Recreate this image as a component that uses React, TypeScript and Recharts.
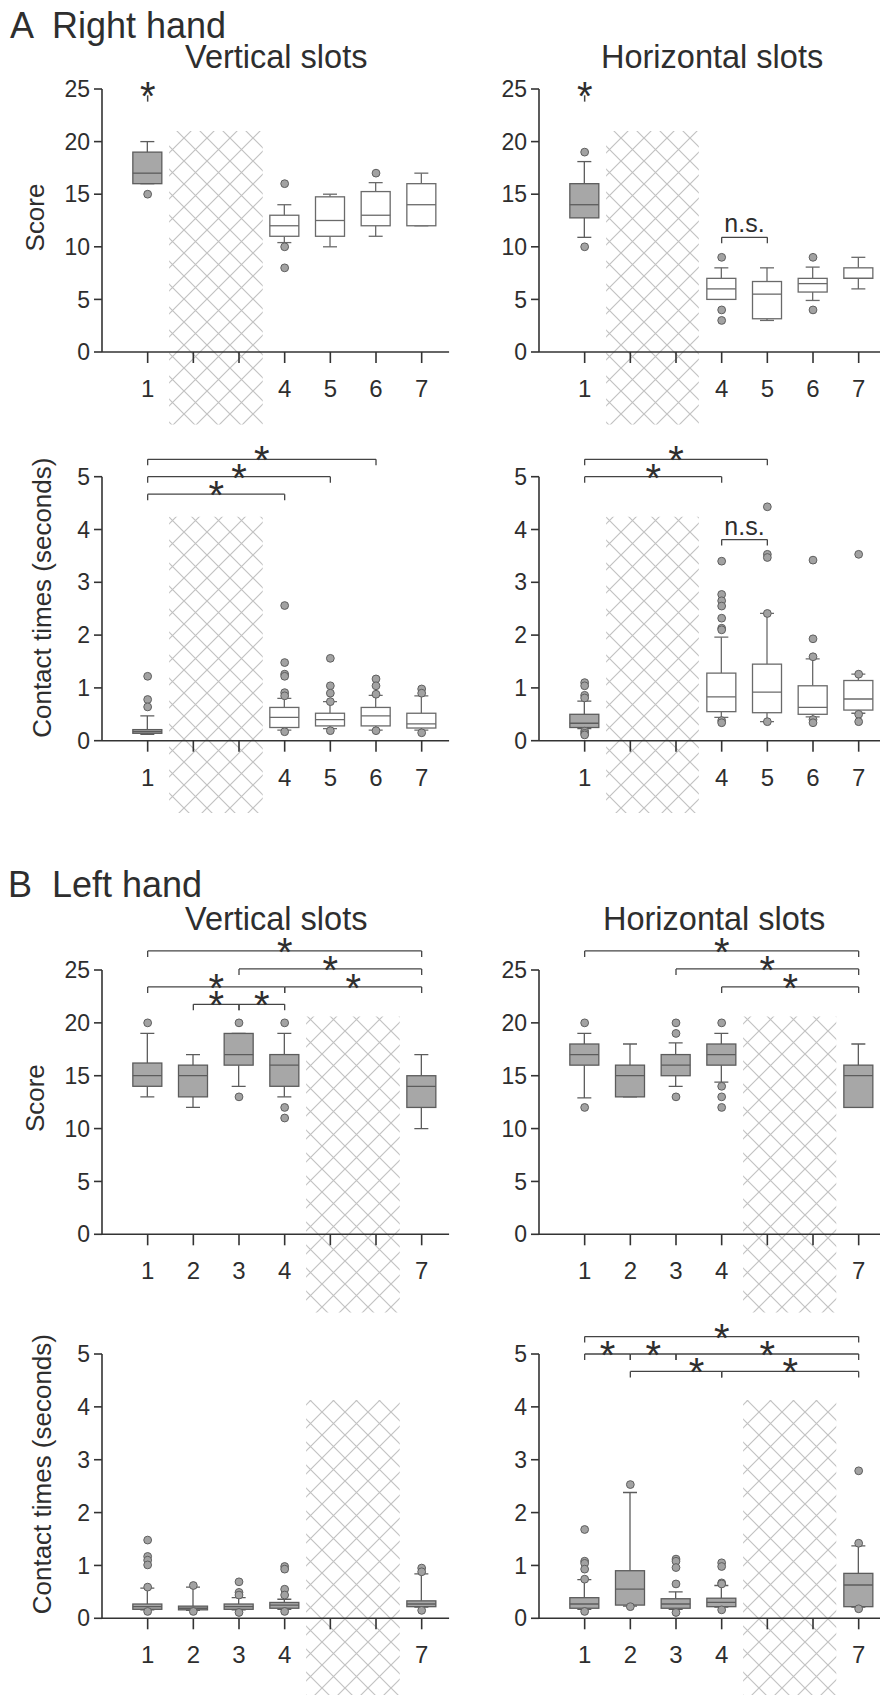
import { ComposedChart, Bar, Scatter, XAxis, YAxis, ReferenceArea, ReferenceLine, ReferenceDot } from "recharts"

const FONT = '"Liberation Sans", Arial, Helvetica, sans-serif'
const INK = "#2e2e2e"
const UNIT = 45.67 // px per slot
const X_MAX = 7.6
const PLOT_W = UNIT * X_MAX
const Y_AXIS_W = 102

const slots = [1, 2, 3, 4, 5, 6, 7]
const rightHandLabels = ["1", "", "", "4", "5", "6", "7"]
const leftHandLabels = ["1", "2", "3", "4", "", "", "7"]
const scoreTicks = [0, 5, 10, 15, 20, 25]
const timeTicks = [0, 1, 2, 3, 4, 5]
const rightHandFilled = [1]
const leftHandFilled = [1, 2, 3, 4, 7]

// box rows: [slot, lower whisker, Q1, median, Q3, upper whisker]
const rightVerticalScore = [
  [1, 16, 16, 17, 19, 20],
  [4, 10.4, 11, 12, 13, 14],
  [5, 10, 11, 12.5, 14.75, 15],
  [6, 11, 12, 13, 15.25, 16.1],
  [7, 12, 12, 14, 16, 17],
]
const rightVerticalScoreOutliers = [[1, 15], [4, 16], [4, 10], [4, 8], [6, 17]]

const rightHorizontalScore = [
  [1, 10.9, 12.75, 14, 16, 18.1],
  [4, 5, 5, 6, 7, 8],
  [5, 3, 3.16, 5.5, 6.7, 8],
  [6, 4.9, 5.7, 6.5, 7, 8.07],
  [7, 6, 7, 7, 8, 9],
]
const rightHorizontalScoreOutliers = [[1, 19], [1, 10], [4, 9], [4, 4], [4, 3], [6, 9], [6, 4]]

const rightVerticalTime = [
  [1, 0.12, 0.14, 0.17, 0.21, 0.47],
  [4, 0.2, 0.25, 0.44, 0.63, 0.8],
  [5, 0.23, 0.28, 0.4, 0.52, 0.74],
  [6, 0.2, 0.28, 0.47, 0.63, 0.86],
  [7, 0.2, 0.24, 0.32, 0.52, 0.85],
]
const rightVerticalTimeOutliers = [
  [1, 1.22], [1, 0.78], [1, 0.64],
  [4, 2.56], [4, 1.48], [4, 1.26], [4, 1.22], [4, 0.91], [4, 0.85], [4, 0.17],
  [5, 1.56], [5, 1.04], [5, 0.9], [5, 0.74], [5, 0.19],
  [6, 1.17], [6, 1.04], [6, 0.88], [6, 0.19],
  [7, 0.98], [7, 0.9], [7, 0.15],
]

const rightHorizontalTime = [
  [1, 0.23, 0.25, 0.33, 0.5, 0.75],
  [4, 0.44, 0.55, 0.83, 1.28, 1.96],
  [5, 0.36, 0.53, 0.92, 1.45, 2.41],
  [6, 0.45, 0.5, 0.63, 1.04, 1.55],
  [7, 0.52, 0.58, 0.79, 1.14, 1.26],
]
const rightHorizontalTimeOutliers = [
  [1, 1.1], [1, 1.04], [1, 0.86], [1, 0.81], [1, 0.18], [1, 0.14], [1, 0.11],
  [4, 3.4], [4, 2.77], [4, 2.65], [4, 2.55], [4, 2.32], [4, 2.13], [4, 2.1], [4, 0.38], [4, 0.34],
  [5, 4.43], [5, 3.53], [5, 3.47], [5, 2.41], [5, 0.36],
  [6, 3.42], [6, 1.93], [6, 1.59], [6, 0.4], [6, 0.34],
  [7, 3.53], [7, 1.26], [7, 0.5], [7, 0.36],
]

const leftVerticalScore = [
  [1, 13, 14, 15, 16.2, 19],
  [2, 12, 13, 15, 16, 17],
  [3, 14, 16, 17, 19, 19],
  [4, 13, 14, 16, 17, 19],
  [7, 10, 12, 14, 15, 17],
]
const leftVerticalScoreOutliers = [[1, 20], [3, 20], [3, 13], [4, 20], [4, 12], [4, 11]]

const leftHorizontalScore = [
  [1, 12.9, 16, 17, 18, 19],
  [2, 13, 13, 15, 16, 18],
  [3, 14, 15, 16, 17, 18.1],
  [4, 14.4, 16, 17, 18, 19],
  [7, 12, 12, 15, 16, 18],
]
const leftHorizontalScoreOutliers = [
  [1, 20], [1, 12], [3, 20], [3, 19], [3, 13], [4, 20], [4, 14], [4, 13], [4, 12],
]

const leftVerticalTime = [
  [1, 0.16, 0.17, 0.22, 0.27, 0.57],
  [2, 0.15, 0.16, 0.19, 0.23, 0.59],
  [3, 0.16, 0.17, 0.22, 0.27, 0.39],
  [4, 0.17, 0.19, 0.25, 0.3, 0.36],
  [7, 0.21, 0.22, 0.27, 0.33, 0.84],
]
const leftVerticalTimeOutliers = [
  [1, 1.48], [1, 1.17], [1, 1.1], [1, 1.01], [1, 0.59], [1, 0.13],
  [2, 0.62], [2, 0.13],
  [3, 0.69], [3, 0.49], [3, 0.44], [3, 0.11],
  [4, 0.98], [4, 0.93], [4, 0.55], [4, 0.44], [4, 0.13],
  [7, 0.95], [7, 0.88], [7, 0.15],
]

const leftHorizontalTime = [
  [1, 0.17, 0.19, 0.27, 0.39, 0.73],
  [2, 0.23, 0.25, 0.55, 0.9, 2.38],
  [3, 0.17, 0.19, 0.27, 0.37, 0.5],
  [4, 0.21, 0.22, 0.3, 0.38, 0.62],
  [7, 0.21, 0.22, 0.63, 0.85, 1.37],
]
const leftHorizontalTimeOutliers = [
  [1, 1.68], [1, 1.08], [1, 1.04], [1, 0.93], [1, 0.74], [1, 0.13],
  [2, 2.53], [2, 0.22],
  [3, 1.12], [3, 1.08], [3, 0.96], [3, 0.65], [3, 0.11],
  [4, 1.05], [4, 0.98], [4, 0.67], [4, 0.65], [4, 0.16],
  [7, 2.79], [7, 1.42], [7, 0.18],
]

// significance brackets: [from slot, to slot, level, asterisk slot]
const rightVerticalTimeBrackets = [[1, 4, 4.67, 2.5], [1, 5, 5.0, 3], [1, 6, 5.33, 3.5]]
const rightHorizontalTimeBrackets = [[1, 4, 5.0, 2.5], [1, 5, 5.33, 3]]
const rightHorizontalScoreNs = [[4, 5, 10.9]]
const rightHorizontalTimeNs = [[4, 5, 3.81]]
const leftVerticalScoreBrackets = [
  [1, 7, 26.8, 4], [3, 7, 25.1, 5], [1, 4, 23.4, 2.5], [4, 7, 23.4, 5.5], [2, 3, 21.75, 2.5], [3, 4, 21.75, 3.5],
]
const leftHorizontalScoreBrackets = [[1, 7, 26.8, 4], [3, 7, 25.1, 5], [4, 7, 23.4, 5.5]]
const leftHorizontalTimeBrackets = [
  [1, 7, 5.33, 4], [1, 2, 5.0, 1.5], [2, 3, 5.0, 2.5], [3, 7, 5.0, 5], [2, 4, 4.67, 3.45], [4, 7, 4.67, 5.5],
]
// lone asterisk above slot 1: [slot, mark bottom, mark top]
const slotOneStar = [[1, 23.8, 24.4]]

const BOX_W = 29
const CAP_W = 14

function makeBoxShape(filled: number[]) {
  return (p: any) => {
    const { x, y, width, height, payload } = p
    const [slot, lo, q1, med, q3, hi] = payload.row
    const top = Math.min(y, y + height)
    const k = Math.abs(height) / (hi - lo)
    const py = (v: number) => top + (hi - v) * k
    const cx = x + width / 2
    const isFilled = filled.includes(slot)
    const stroke = isFilled ? "#5c5c5c" : "#6a6a6a"
    return (
      <g>
        <line x1={cx} x2={cx} y1={py(hi)} y2={py(q3)} stroke={stroke} strokeWidth={1.3} />
        <line x1={cx} x2={cx} y1={py(q1)} y2={py(lo)} stroke={stroke} strokeWidth={1.3} />
        <line x1={cx - CAP_W / 2} x2={cx + CAP_W / 2} y1={py(hi)} y2={py(hi)} stroke={stroke} strokeWidth={1.3} />
        <line x1={cx - CAP_W / 2} x2={cx + CAP_W / 2} y1={py(lo)} y2={py(lo)} stroke={stroke} strokeWidth={1.3} />
        <rect x={cx - BOX_W / 2} y={py(q3)} width={BOX_W} height={Math.max(py(q1) - py(q3), 0.5)}
          fill={isFilled ? "#a7a7a7" : "#ffffff"} stroke={stroke} strokeWidth={1.3} />
        <line x1={cx - BOX_W / 2} x2={cx + BOX_W / 2} y1={py(med)} y2={py(med)} stroke={stroke} strokeWidth={1.3} />
      </g>
    )
  }
}

const Outlier = (p: any) => (
  <circle cx={p.cx} cy={p.cy} r={3.9} fill="#a2a2a2" stroke="#5e5e5e" strokeWidth={1} />
)

// asterisk glyph centred about 8px above the anchor point
const Star = (p: any) => (
  <text x={p.cx} y={p.cy + 15} textAnchor="middle" fontSize={40} fontFamily={FONT} fill={INK}>*</text>
)

const NsText = (p: any) => (
  <text x={p.cx} y={p.cy - 5} textAnchor="middle" fontSize={25} fontFamily={FONT} fill={INK}>n.s.</text>
)

interface PanelProps {
  id: string
  left: number
  top: number
  height: number
  plotTop: number
  plotBottom: number
  yMax: number
  yTicks: number[]
  yLabel?: string
  yLabelX?: number
  yLabelDy?: number
  boxes: number[][]
  outliers: number[][]
  filled: number[]
  labels: string[]
  hatch: number[]
  brackets?: number[][]
  ns?: number[][]
  stars?: number[][]
}

function Panel(props: PanelProps) {
  const { id, left, top, height, plotTop, plotBottom, yMax, yTicks, boxes, outliers, filled, labels, hatch } = props
  const brackets = props.brackets || []
  const ns = props.ns || []
  const stars = props.stars || []
  const tip = (yMax / (plotBottom - plotTop)) * 6
  const width = Y_AXIS_W + PLOT_W + 4
  const data = boxes.map((r) => ({ x: r[0], range: [r[1], r[5]], row: r }))
  const pts = outliers.map((o) => ({ x: o[0], y: o[1] }))
  const lineStyle = { stroke: "#444", strokeWidth: 1.3 }
  const labelX = (props.yLabelX || 0) - left
  const labelY = (plotTop + plotBottom) / 2 - top + (props.yLabelDy || 0)

  return (
    <div style={{ position: "absolute", left, top, width, height }}>
      <ComposedChart
        width={width}
        height={height}
        data={data}
        margin={{ top: plotTop - top, right: 4, bottom: 0, left: 0 }}
      >
        <defs>
          <pattern id={`hatch-${id}`} patternUnits="userSpaceOnUse" width="23" height="23">
            <path d="M-2,-2 L25,25 M25,-2 L-2,25" stroke="#c2c2c2" strokeWidth={1.2} />
          </pattern>
        </defs>
        <XAxis
          dataKey="x"
          type="number"
          domain={[0, X_MAX]}
          ticks={slots}
          interval={0}
          allowDataOverflow
          tickFormatter={(v: number) => labels[v - 1]}
          height={top + height - plotBottom}
          tickSize={11}
          tickMargin={17}
          axisLine={{ stroke: "#333", strokeWidth: 1.6 }}
          tickLine={{ stroke: "#333", strokeWidth: 1.6 }}
          tick={{ fontSize: 24, fill: INK, fontFamily: FONT }}
        />
        <YAxis
          type="number"
          domain={[0, yMax]}
          ticks={yTicks}
          interval={0}
          allowDataOverflow
          width={Y_AXIS_W}
          tickSize={8}
          tickMargin={4}
          axisLine={{ stroke: "#333", strokeWidth: 1.6 }}
          tickLine={{ stroke: "#333", strokeWidth: 1.6 }}
          tick={{ fontSize: 23, fill: INK, fontFamily: FONT }}
          label={
            props.yLabel
              ? {
                  content: () => (
                    <text
                      x={labelX}
                      y={labelY}
                      transform={`rotate(-90 ${labelX} ${labelY})`}
                      textAnchor="middle"
                      dominantBaseline="central"
                      fontSize={26}
                      fontFamily={FONT}
                      fill={INK}
                    >
                      {props.yLabel}
                    </text>
                  ),
                }
              : undefined
          }
        />
        <ReferenceArea
          x1={hatch[0]}
          x2={hatch[1]}
          y1={hatch[2]}
          y2={hatch[3]}
          ifOverflow="visible"
          fill={`url(#hatch-${id})`}
          fillOpacity={1}
          stroke="none"
        />
        <Bar dataKey="range" barSize={BOX_W} shape={makeBoxShape(filled)} isAnimationActive={false} />
        <Scatter data={pts} dataKey="y" shape={Outlier} isAnimationActive={false} />
        {brackets.map((b, i) => [
          <ReferenceLine key={`h${i}`} segment={[{ x: b[0], y: b[2] }, { x: b[1], y: b[2] }]} ifOverflow="visible" {...lineStyle} />,
          <ReferenceLine key={`l${i}`} segment={[{ x: b[0], y: b[2] }, { x: b[0], y: b[2] - tip }]} ifOverflow="visible" {...lineStyle} />,
          <ReferenceLine key={`r${i}`} segment={[{ x: b[1], y: b[2] }, { x: b[1], y: b[2] - tip }]} ifOverflow="visible" {...lineStyle} />,
          <ReferenceDot key={`s${i}`} x={b[3]} y={b[2]} r={0} ifOverflow="visible" shape={Star} />,
        ])}
        {ns.map((b, i) => [
          <ReferenceLine key={`nh${i}`} segment={[{ x: b[0], y: b[2] }, { x: b[1], y: b[2] }]} ifOverflow="visible" {...lineStyle} />,
          <ReferenceLine key={`nl${i}`} segment={[{ x: b[0], y: b[2] }, { x: b[0], y: b[2] - tip }]} ifOverflow="visible" {...lineStyle} />,
          <ReferenceLine key={`nr${i}`} segment={[{ x: b[1], y: b[2] }, { x: b[1], y: b[2] - tip }]} ifOverflow="visible" {...lineStyle} />,
          <ReferenceDot key={`nt${i}`} x={(b[0] + b[1]) / 2} y={b[2]} r={0} ifOverflow="visible" shape={NsText} />,
        ])}
        {stars.map((s, i) => [
          <ReferenceLine key={`st${i}`} segment={[{ x: s[0], y: s[1] }, { x: s[0], y: s[2] }]} ifOverflow="visible" stroke="#444" strokeWidth={1.5} />,
          <ReferenceDot key={`ss${i}`} x={s[0]} y={s[2]} r={0} ifOverflow="visible" shape={Star} />,
        ])}
      </ComposedChart>
    </div>
  )
}

const titleStyle = { fontFamily: FONT, fill: INK }

export default function App() {
  const RIGHT_COL = 436.5
  return (
    <div style={{ position: "absolute", left: 0, top: 0, width: 880, height: 1695, overflow: "hidden", background: "#fff" }}>
      <style>{".recharts-surface{overflow:visible}"}</style>

      <Panel id="a1" left={0} top={0} height={440} plotTop={89} plotBottom={352} yMax={25} yTicks={scoreTicks}
        yLabel="Score" yLabelX={35} yLabelDy={-3} boxes={rightVerticalScore} outliers={rightVerticalScoreOutliers}
        filled={rightHandFilled} labels={rightHandLabels} hatch={[1.47, 3.52, -6.9, 21]} stars={slotOneStar} />
      <Panel id="a2" left={RIGHT_COL} top={0} height={440} plotTop={89} plotBottom={352} yMax={25} yTicks={scoreTicks}
        boxes={rightHorizontalScore} outliers={rightHorizontalScoreOutliers} filled={rightHandFilled}
        labels={rightHandLabels} hatch={[1.47, 3.5, -6.9, 21]} stars={slotOneStar} ns={rightHorizontalScoreNs} />
      <Panel id="a3" left={0} top={440} height={430} plotTop={476.7} plotBottom={740.7} yMax={5} yTicks={timeTicks}
        yLabel="Contact times (seconds)" yLabelX={42} yLabelDy={-11} boxes={rightVerticalTime}
        outliers={rightVerticalTimeOutliers} filled={rightHandFilled} labels={rightHandLabels}
        hatch={[1.47, 3.52, -1.37, 4.24]} brackets={rightVerticalTimeBrackets} />
      <Panel id="a4" left={RIGHT_COL} top={440} height={430} plotTop={476.7} plotBottom={740.7} yMax={5} yTicks={timeTicks}
        boxes={rightHorizontalTime} outliers={rightHorizontalTimeOutliers} filled={rightHandFilled}
        labels={rightHandLabels} hatch={[1.47, 3.5, -1.37, 4.24]} brackets={rightHorizontalTimeBrackets}
        ns={rightHorizontalTimeNs} />
      <Panel id="b1" left={0} top={870} height={450} plotTop={970} plotBottom={1234.3} yMax={25} yTicks={scoreTicks}
        yLabel="Score" yLabelX={35} yLabelDy={-4} boxes={leftVerticalScore} outliers={leftVerticalScoreOutliers}
        filled={leftHandFilled} labels={leftHandLabels} hatch={[4.47, 6.52, -7.4, 20.6]}
        brackets={leftVerticalScoreBrackets} />
      <Panel id="b2" left={RIGHT_COL} top={870} height={450} plotTop={970} plotBottom={1234.3} yMax={25} yTicks={scoreTicks}
        boxes={leftHorizontalScore} outliers={leftHorizontalScoreOutliers} filled={leftHandFilled}
        labels={leftHandLabels} hatch={[4.47, 6.51, -7.4, 20.6]} brackets={leftHorizontalScoreBrackets} />
      <Panel id="b3" left={0} top={1320} height={375} plotTop={1354} plotBottom={1618.3} yMax={5} yTicks={timeTicks}
        yLabel="Contact times (seconds)" yLabelX={42} yLabelDy={-12} boxes={leftVerticalTime}
        outliers={leftVerticalTimeOutliers} filled={leftHandFilled} labels={leftHandLabels}
        hatch={[4.47, 6.52, -1.5, 4.13]} />
      <Panel id="b4" left={RIGHT_COL} top={1320} height={375} plotTop={1354} plotBottom={1618.3} yMax={5} yTicks={timeTicks}
        boxes={leftHorizontalTime} outliers={leftHorizontalTimeOutliers} filled={leftHandFilled}
        labels={leftHandLabels} hatch={[4.47, 6.51, -1.5, 4.13]} brackets={leftHorizontalTimeBrackets} />

      <svg width={880} height={1695} style={{ position: "absolute", left: 0, top: 0, pointerEvents: "none" }}>
        <text x={10} y={38} fontSize={36} {...titleStyle}>A</text>
        <text x={52} y={38} fontSize={36} {...titleStyle}>Right hand</text>
        <text x={185} y={68} fontSize={32.5} {...titleStyle}>Vertical slots</text>
        <text x={601} y={68} fontSize={32.5} {...titleStyle}>Horizontal slots</text>
        <text x={8} y={897} fontSize={36} {...titleStyle}>B</text>
        <text x={52} y={897} fontSize={36} {...titleStyle}>Left hand</text>
        <text x={185} y={930} fontSize={32.5} {...titleStyle}>Vertical slots</text>
        <text x={603} y={930} fontSize={32.5} {...titleStyle}>Horizontal slots</text>
      </svg>
    </div>
  )
}
